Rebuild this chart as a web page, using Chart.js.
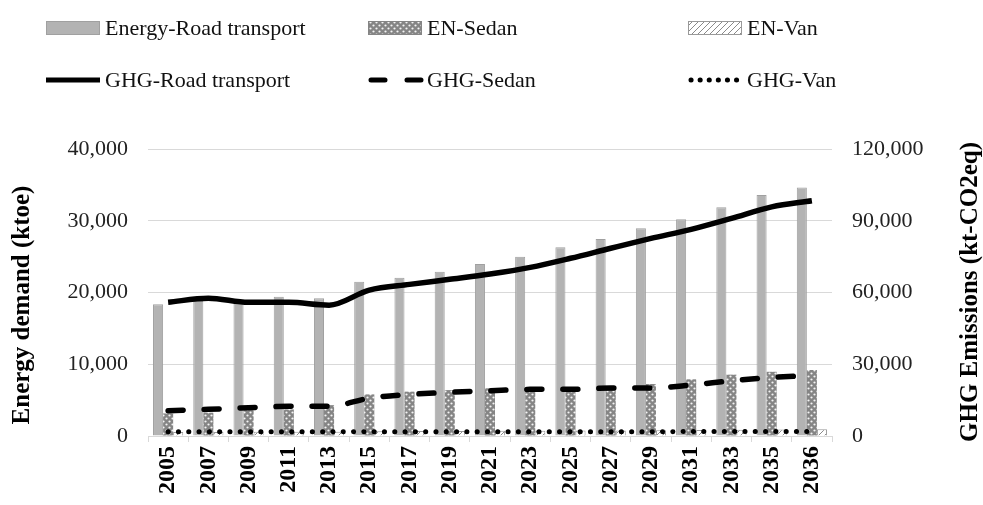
<!DOCTYPE html>
<html>
<head>
<meta charset="utf-8">
<script src="https://cdn.jsdelivr.net/npm/chart.js@4.4.1/dist/chart.umd.min.js"></script>
<style>
    body { margin: 0; background: #fff; }
    #wrap { width: 983px; height: 505px; position: relative; }
</style>
</head>
<body>
<div id="wrap"><canvas id="energyChart"></canvas></div>
<script>
// Chart data
const years = ['2005', '2007', '2009', '2011', '2013', '2015', '2017', '2019', '2021',
    '2023', '2025', '2027', '2029', '2031', '2033', '2035', '2036'];
const energyRoad = [18350, 18800, 18500, 19400, 19200, 21500, 22070, 22900, 23970,
    24990, 26300, 27450, 28950, 30200, 31870, 33600, 34650];
const energySedan = [3150, 3250, 3600, 3700, 4300, 5800, 6180, 6400, 6650,
    6500, 6450, 6450, 7250, 7900, 8550, 8950, 9200];
const energyVan = [550, 560, 580, 600, 600, 650, 680, 700, 720,
    740, 760, 780, 800, 830, 860, 900, 950];
const ghgRoad = [55900, 57600, 55900, 55900, 54700, 61000, 63400, 65500, 67700,
    70500, 74300, 78500, 82600, 86400, 91000, 95800, 98400];
const ghgSedan = [10600, 11150, 11850, 12400, 12400, 15800, 17400, 18250, 18950,
    19500, 19500, 20070, 20070, 21300, 23100, 24500, 25300];
const ghgVan = [1750, 1750, 1750, 1750, 1750, 1800, 1800, 1800, 1800,
    1800, 1800, 1800, 1800, 1850, 1850, 1850, 1850];
const leftTicks = [0, 10000, 20000, 30000, 40000];
const rightTicks = [0, 30000, 60000, 90000, 120000];

const SERIF = '"Liberation Serif", "Times New Roman", serif';

// Fill patterns for the sedan / van bars
function makeSedanPattern() {
    const c = document.createElement('canvas');
    c.width = 6; c.height = 6;
    const g = c.getContext('2d');
    g.fillStyle = '#858585';
    g.fillRect(0, 0, 6, 6);
    g.fillStyle = '#f4f4f4';
    [[1.5, 1.5], [4.5, 4.5]].forEach(p => {
        g.beginPath();
        g.arc(p[0], p[1], 1.1, 0, Math.PI * 2);
        g.fill();
    });
    return g.createPattern(c, 'repeat');
}

function makeVanPattern() {
    const c = document.createElement('canvas');
    c.width = 6; c.height = 6;
    const g = c.getContext('2d');
    g.fillStyle = '#ffffff';
    g.fillRect(0, 0, 6, 6);
    g.strokeStyle = '#8a8a8a';
    g.lineWidth = 1;
    g.beginPath();
    g.moveTo(0, 6); g.lineTo(6, 0);
    g.moveTo(-1, 1); g.lineTo(1, -1);
    g.moveTo(5, 7); g.lineTo(7, 5);
    g.stroke();
    return g.createPattern(c, 'repeat');
}

const sedanFill = makeSedanPattern();
const vanFill = makeVanPattern();

// Legend + axis titles drawn by hand to get the 3-column layout
const legendItems = [
    { label: 'Energy-Road transport', x: 46, row: 0, kind: 'box', fill: '#b3b3b3', stroke: '#a0a0a0' },
    { label: 'EN-Sedan', x: 368, row: 0, kind: 'box', fill: sedanFill, stroke: '#858585' },
    { label: 'EN-Van', x: 688, row: 0, kind: 'box', fill: vanFill, stroke: '#999' },
    { label: 'GHG-Road transport', x: 46, row: 1, kind: 'line', dash: [] },
    { label: 'GHG-Sedan', x: 368, row: 1, kind: 'line', dash: [14, 22] },
    { label: 'GHG-Van', x: 688, row: 1, kind: 'line', dash: [0.1, 9] }
];
const legendRows = [28, 80];

const decorPlugin = {
    id: 'decor',
    afterDraw(chart) {
        const ctx = chart.ctx;
        ctx.save();
        legendItems.forEach(item => {
            const y = legendRows[item.row];
            if (item.kind === 'box') {
                ctx.fillStyle = item.fill;
                ctx.fillRect(item.x, y - 7, 54, 14);
                ctx.strokeStyle = item.stroke;
                ctx.lineWidth = 1;
                ctx.strokeRect(item.x + 0.5, y - 6.5, 53, 13);
            } else {
                ctx.strokeStyle = '#000';
                ctx.lineWidth = 5;
                ctx.lineCap = item.dash.length ? 'round' : 'butt';
                ctx.setLineDash(item.dash);
                ctx.beginPath();
                ctx.moveTo(item.x + (item.dash.length ? 3 : 0), y);
                ctx.lineTo(item.x + 54, y);
                ctx.stroke();
                ctx.setLineDash([]);
            }
            ctx.fillStyle = '#111';
            ctx.font = '22px ' + SERIF;
            ctx.textAlign = 'left';
            ctx.textBaseline = 'middle';
            ctx.fillText(item.label, item.x + 59, y + 1);
        });

        // axis titles, both reading bottom to top
        ctx.font = 'bold 25px ' + SERIF;
        ctx.fillStyle = '#000';
        ctx.textAlign = 'center';
        ctx.textBaseline = 'middle';
        ctx.save();
        ctx.translate(23, 305);
        ctx.rotate(-Math.PI / 2);
        ctx.fillText('Energy demand (ktoe)', 0, 0);
        ctx.restore();
        ctx.save();
        ctx.translate(971, 292);
        ctx.rotate(-Math.PI / 2);
        ctx.fillText('GHG Emissions (kt-CO2eq)', 0, 0);
        ctx.restore();
        ctx.restore();
    }
};

const fmt = v => v.toLocaleString('en-US');

new Chart(document.getElementById('energyChart'), {
    type: 'bar',
    data: {
        labels: years,
        datasets: [
            {
                type: 'line', label: 'GHG-Road transport', data: ghgRoad, yAxisID: 'y1', order: 0,
                borderColor: '#000', borderWidth: 5.5, pointRadius: 0, cubicInterpolationMode: 'monotone'
            },
            {
                type: 'line', label: 'GHG-Sedan', data: ghgSedan, yAxisID: 'y1', order: 0,
                borderColor: '#000', borderWidth: 5.5, pointRadius: 0, borderDash: [15, 21],
                borderCapStyle: 'round', cubicInterpolationMode: 'monotone'
            },
            {
                type: 'line', label: 'GHG-Van', data: ghgVan, yAxisID: 'y1', order: 0,
                borderColor: '#000', borderWidth: 5, pointRadius: 0, borderDash: [0.1, 10.2],
                borderCapStyle: 'round'
            },
            {
                label: 'Energy-Road transport', data: energyRoad, yAxisID: 'y', order: 1,
                backgroundColor: '#b3b3b3', borderColor: '#a0a0a0', borderWidth: 1
            },
            {
                label: 'EN-Sedan', data: energySedan, yAxisID: 'y', order: 1,
                backgroundColor: sedanFill, borderColor: '#858585', borderWidth: 0
            },
            {
                label: 'EN-Van', data: energyVan, yAxisID: 'y', order: 1,
                backgroundColor: vanFill, borderColor: '#999', borderWidth: 1
            }
        ]
    },
    options: {
        responsive: true,
        maintainAspectRatio: false,
        animation: false,
        layout: { padding: { top: 149, left: 0, right: 0, bottom: 0 } },
        datasets: { bar: { barPercentage: 1, categoryPercentage: 0.75 } },
        plugins: {
            legend: { display: false },
            tooltip: { enabled: false }
        },
        scales: {
            x: {
                grid: { display: true, drawOnChartArea: false, color: '#d9d9d9', tickLength: 6 },
                border: { color: '#d9d9d9' },
                ticks: {
                    minRotation: 90, maxRotation: 90, padding: 4, color: '#000',
                    font: { family: SERIF, size: 24, weight: 'bold' }
                },
                afterFit: axis => { axis.height = 69; }
            },
            y: {
                position: 'left', min: 0, max: 40000,
                grid: { color: '#d9d9d9', drawTicks: false },
                border: { display: false },
                afterBuildTicks: axis => { axis.ticks = leftTicks.map(v => ({ value: v })); },
                ticks: { padding: 20, color: '#222', font: { family: SERIF, size: 22 }, callback: fmt },
                afterFit: axis => { axis.width = 148; }
            },
            y1: {
                position: 'right', min: 0, max: 120000,
                grid: { display: false, drawTicks: false },
                border: { display: false },
                afterBuildTicks: axis => { axis.ticks = rightTicks.map(v => ({ value: v })); },
                ticks: { padding: 20, color: '#222', font: { family: SERIF, size: 22 }, callback: fmt },
                afterFit: axis => { axis.width = 151; }
            }
        }
    },
    plugins: [decorPlugin]
});
</script>
</body>
</html>
